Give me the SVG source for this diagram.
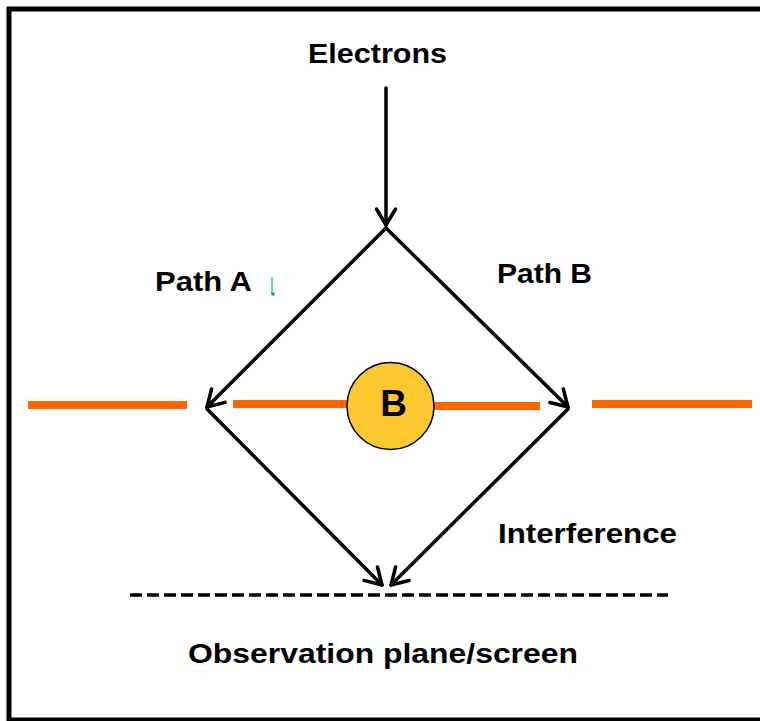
<svg xmlns="http://www.w3.org/2000/svg" width="760" height="721" viewBox="0 0 760 721">
  <style>
    .lbl { font-family: "Liberation Sans", Arial, sans-serif; font-weight: bold; font-size: 28px; fill: #000; }
    .conn { stroke: #000; stroke-width: 3.5; fill: none; stroke-linecap: round; marker-end: url(#arrow); }
    .slit { stroke: #FF6600; stroke-width: 8; }
  </style>
  <defs>
    <marker id="arrow" markerUnits="userSpaceOnUse" viewBox="-20 -12 24 24" refX="0" refY="0" markerWidth="24" markerHeight="24" orient="auto">
      <path d="M-16,-9.5 L0,0 L-16,9.5" fill="none" stroke="#000" stroke-width="3.5" stroke-linecap="round" stroke-linejoin="round"/>
    </marker>
  </defs>
  <rect x="0" y="0" width="760" height="721" fill="#fff"/>
  <rect id="frame" x="9" y="9" width="780" height="711" fill="none" stroke="#000" stroke-width="5"/>

  <g id="barrier">
    <line class="slit" x1="28" y1="405" x2="187" y2="405"/>
    <line class="slit" x1="233" y1="404" x2="348" y2="404"/>
    <line class="slit" x1="433" y1="406" x2="540" y2="406"/>
    <line class="slit" x1="592" y1="404" x2="752" y2="404"/>
  </g>

  <g id="connectors">
    <line class="conn" x1="386" y1="88" x2="386" y2="225"/>
    <line class="conn" x1="386" y1="228" x2="207" y2="407"/>
    <line class="conn" x1="386" y1="228" x2="568" y2="407"/>
    <line class="conn" x1="207" y1="409" x2="382" y2="585"/>
    <line class="conn" x1="568" y1="409" x2="391" y2="585"/>
  </g>

  <g id="node-electrons">
    <text class="lbl" x="308" y="63" textLength="139" lengthAdjust="spacingAndGlyphs">Electrons</text>
  </g>
  <g id="node-pathA">
    <text class="lbl" x="155" y="291" textLength="97" lengthAdjust="spacingAndGlyphs">Path A</text>
  </g>
  <g id="green-mark">
    <line x1="272" y1="277" x2="272" y2="294" stroke="#33CC77" stroke-width="1.5"/>
    <circle cx="273" cy="294" r="1.8" fill="#11AA55"/>
  </g>
  <g id="node-pathB">
    <text class="lbl" x="497" y="283" textLength="95" lengthAdjust="spacingAndGlyphs">Path B</text>
  </g>
  <g id="node-B">
    <circle cx="390.5" cy="406" r="43.5" fill="#FDC82F" stroke="#000" stroke-width="1.5"/>
    <text x="393.5" y="416" text-anchor="middle" style="font-family: 'Liberation Sans', Arial, sans-serif; font-weight: bold; font-size: 37px;" fill="#000">B</text>
  </g>
  <g id="node-interference">
    <text class="lbl" x="498" y="543" textLength="179" lengthAdjust="spacingAndGlyphs">Interference</text>
  </g>
  <g id="node-screen">
    <line x1="130" y1="595" x2="668" y2="595" stroke="#000" stroke-width="3.5" stroke-dasharray="12 5"/>
    <text class="lbl" x="188" y="663" textLength="390" lengthAdjust="spacingAndGlyphs">Observation plane/screen</text>
  </g>
</svg>
